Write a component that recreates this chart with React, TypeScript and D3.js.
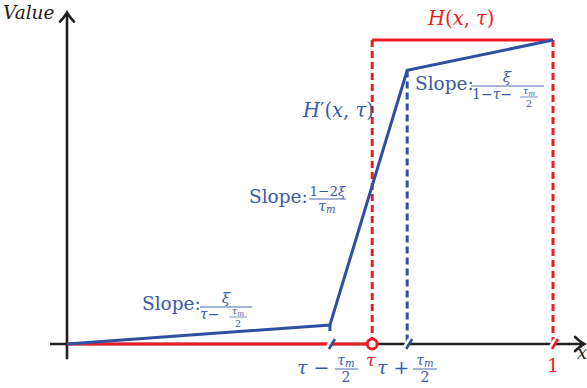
import * as d3 from 'd3';

const W = 587;
const H = 388;
const BLUE = '#2f50a0';
const TEXT_BLUE = '#3a5aa8';
const RED = '#ec1c24';
const INK = '#231f20';
const FONT = "'DejaVu Serif', 'Liberation Serif', serif";

// abscissae of the special points (x in [0, 1])
const tau = 0.628;
const kneeX = [0, 0.541, 0.7, 1]; // 0, tau - tm/2, tau + tm/2, 1
const hPrimeY = [0, 0.0625, 0.9, 1]; // H'(x, tau) at the knees
const stepX = [tau, tau, 1, 1];
const stepY = [0, 1, 1, 0]; // H(x, tau) jump
const tickX = [0.541, tau, 0.7, 1];
const tickColor = [BLUE, RED, BLUE, RED];

const x = d3.scaleLinear().domain([0, 1]).range([67, 553]);
const y = d3.scaleLinear().domain([0, 1]).range([344, 40]);

const pt = (xs: number[], ys: number[]) => xs.map((v, i) => [x(v), y(ys[i])] as [number, number]);
const line = d3.line();

function Arrow({ tx, ty, dir }: { tx: number; ty: number; dir: 'up' | 'right' }) {
  const rot = dir === 'up' ? -90 : 0;
  return (
    <path
      transform={`translate(${tx},${ty}) rotate(${rot})`}
      d="M-9,-7 Q-3,-1.5 0,0 Q-3,1.5 -9,7"
      fill="none"
      stroke={INK}
      strokeWidth={2.6}
      strokeLinecap="round"
    />
  );
}

const I = ({ children }: { children: string }) => <tspan fontStyle="italic">{children}</tspan>;

// tau_m as a small token
function TauM({ size }: { size: number }) {
  return (
    <>
      <tspan fontStyle="italic">τ</tspan>
      <tspan fontSize={size * 0.72} fontStyle="italic" dy={size * 0.16}>m</tspan>
    </>
  );
}

export default function App() {
  const x0 = x(0);
  const y0 = y(0);
  const tauX = x(tau);
  const [stepTop, stepRight] = [y(stepY[1]), x(stepX[2])];

  return (
    <svg
      width={W}
      height={H}
      viewBox={`0 0 ${W} ${H}`}
      style={{ position: 'absolute', left: 0, top: 0, background: '#fff', fontFamily: FONT }}
    >
      {/* axes */}
      <line x1={x(-0.035)} x2={x(1.062)} y1={y0} y2={y0} stroke={INK} strokeWidth={2.6} />
      <line x1={x0} x2={x0} y1={y(-0.05)} y2={y(1.088)} stroke={INK} strokeWidth={2.6} />
      <Arrow tx={x(1.064)} ty={y0} dir="right" />
      <Arrow tx={x0} ty={y(1.09)} dir="up" />

      {/* H(x, tau): zero part along the axis */}
      <line x1={x0} x2={tauX} y1={y0} y2={y0} stroke={RED} strokeWidth={3} />

      {/* H(x, tau): step */}
      <line x1={tauX} x2={tauX} y1={y0} y2={stepTop} stroke={RED} strokeWidth={3} strokeDasharray="7,4" />
      <line x1={tauX} x2={stepRight} y1={stepTop} y2={stepTop} stroke={RED} strokeWidth={3} />
      <line x1={stepRight} x2={stepRight} y1={stepTop} y2={y0} stroke={RED} strokeWidth={3} strokeDasharray="7,4" />

      {/* dashed guide below the upper knee */}
      <line x1={x(kneeX[2])} x2={x(kneeX[2])} y1={y(hPrimeY[2])} y2={y0} stroke={BLUE} strokeWidth={3} strokeDasharray="7,4" />
      <line x1={x(kneeX[1])} x2={x(kneeX[1])} y1={y(hPrimeY[1])} y2={y(hPrimeY[1]) + 6} stroke={BLUE} strokeWidth={3} />

      {/* H'(x, tau) */}
      <path d={line(pt(kneeX, hPrimeY)) ?? ''} fill="none" stroke={BLUE} strokeWidth={3} />

      {/* break ticks on the axis */}
      {tickX.map((v, i) =>
        i === 1 ? (
          <circle key={i} cx={x(v)} cy={y0} r={5} fill="#fff" stroke={RED} strokeWidth={3} />
        ) : (
          <g key={i} transform={`translate(${x(v)},${y0})`}>
            <line x1={-4} y1={5} x2={2} y2={-5} stroke="#fff" strokeWidth={3} />
            <line x1={-1} y1={5} x2={5} y2={-5} stroke={tickColor[i]} strokeWidth={2.6} />
          </g>
        )
      )}

      {/* axis labels */}
      <text x={3} y={19} fontSize={18.5} fontStyle="italic" fill={INK}>Value</text>
      <text x={577} y={359} fontSize={18} fontStyle="italic" fill={INK}>x</text>

      {/* tick labels */}
      <g fill={TEXT_BLUE}>
        <text x={297} y={374} fontSize={19}>
          <I>τ</I> −
        </text>
        <text x={346} y={365} fontSize={14} textAnchor="middle"><TauM size={14} /></text>
        <line x1={335} x2={358} y1={369} y2={369} stroke={TEXT_BLUE} strokeWidth={0.9} />
        <text x={346} y={382} fontSize={14} textAnchor="middle">2</text>

        <text x={377} y={374} fontSize={19}>
          <I>τ</I> +
        </text>
        <text x={425} y={365} fontSize={14} textAnchor="middle"><TauM size={14} /></text>
        <line x1={413} x2={437} y1={369} y2={369} stroke={TEXT_BLUE} strokeWidth={0.9} />
        <text x={425} y={382} fontSize={14} textAnchor="middle">2</text>
      </g>
      <text x={366} y={366} fontSize={17} fill={RED}>
        <I>τ</I>
      </text>
      <text x={553} y={372} fontSize={19} fill={RED} textAnchor="middle">1</text>

      {/* curve labels */}
      <text x={428} y={25} fontSize={19.5} fill={RED}>
        <I>H</I>(<I>x</I>, <I>τ</I>)
      </text>
      <text x={303} y={117} fontSize={19.5} fill={TEXT_BLUE}>
        <I>H</I>′(<I>x</I>, <I>τ</I>)
      </text>

      {/* slope annotations */}
      <g fill={TEXT_BLUE}>
        {/* lower segment */}
        <text x={142} y={310} fontSize={18.5}>Slope:</text>
        <line x1={200} x2={252} y1={307} y2={307} stroke={TEXT_BLUE} strokeWidth={0.9} />
        <text x={226} y={303} fontSize={15} textAnchor="middle"><I>ξ</I></text>
        <text x={200} y={319} fontSize={14}><I>τ</I>−</text>
        <text x={238} y={314} fontSize={10} textAnchor="middle"><TauM size={10} /></text>
        <line x1={229} x2={247} y1={317} y2={317} stroke={TEXT_BLUE} strokeWidth={0.7} />
        <text x={238} y={326.5} fontSize={10} textAnchor="middle">2</text>

        {/* steep segment */}
        <text x={249} y={203} fontSize={18.5}>Slope:</text>
        <line x1={309} x2={346} y1={199} y2={199} stroke={TEXT_BLUE} strokeWidth={0.9} />
        <text x={327.5} y={196} fontSize={13.5} textAnchor="middle">1−2<I>ξ</I></text>
        <text x={327} y={211} fontSize={14} textAnchor="middle"><TauM size={14} /></text>

        {/* upper segment */}
        <text x={415} y={90} fontSize={18.5}>Slope:</text>
        <line x1={471} x2={544} y1={86} y2={86} stroke={TEXT_BLUE} strokeWidth={0.9} />
        <text x={507} y={82} fontSize={15} textAnchor="middle"><I>ξ</I></text>
        <text x={472} y={99} fontSize={14}>1−<I>τ</I>−</text>
        <text x={529} y={94} fontSize={10} textAnchor="middle"><TauM size={10} /></text>
        <line x1={520} x2={538} y1={97} y2={97} stroke={TEXT_BLUE} strokeWidth={0.7} />
        <text x={529} y={106.5} fontSize={10} textAnchor="middle">2</text>
      </g>
    </svg>
  );
}
